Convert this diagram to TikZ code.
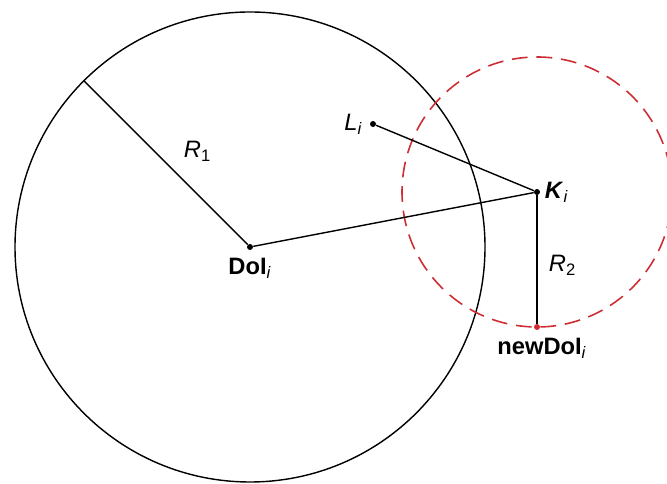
\documentclass[tikz,border=0pt]{standalone}
\usepackage{fontspec}
\setmainfont{Liberation Sans}
\usepackage{tikz}
\usetikzlibrary{positioning, calc}
\definecolor{dashred}{RGB}{205,45,50}

\begin{document}
\begin{tikzpicture}[
        pt/.style={circle, fill=black, inner sep=0pt, minimum size=0.12cm},
        lbl/.style={font=\fontsize{13.5}{15}\selectfont, inner sep=1pt},
        ring/.style={line width=0.8pt},
        reach/.style={dashred, line width=0.9pt, dash pattern=on 9pt off 5pt}
    ]
        \useasboundingbox (0,0) rectangle (13.34,9.68);

        % Points
        \node[pt] (doi) at (5.0, 4.74) {};
        \node[pt] (l) at (7.46, 7.2) {};
        \node[pt] (k) at (10.74, 5.84) {};
        \node[pt, fill=dashred] (newdoi) at (10.74, 3.14) {};
        \coordinate (rim) at ($(doi)+(135:4.7)$);

        % Circles
        \draw[ring] (doi) circle (4.7);
        \draw[reach] (k) circle (2.7);

        % Connectors
        \draw[ring] (doi) -- (rim);
        \draw[ring] (doi) -- (k);
        \draw[ring] (l) -- (k);
        \draw[ring] (k) -- (newdoi);

        % Labels
        \node[lbl, left=0.1cm of l] (llbl) {\textit{L}\textsubscript{\textit{i}}};
        \node[lbl, right=0.05cm of k] (klbl) {\textbf{\textit{K}}\textsubscript{\textit{i}}};
        \node[lbl, below=0.12cm of doi] (doilbl) {\textbf{DoI}\textsubscript{\textit{i}}};
        \node[lbl, below=0.12cm of newdoi, xshift=0.1cm] (newlbl) {\textbf{newDoI}\textsubscript{\textit{i}}};
        \node[lbl] (r1) at (3.95, 6.66) {\textit{R}\textsubscript{1}};
        \node[lbl] (r2) at (11.25, 4.38) {\textit{R}\textsubscript{2}};
    \end{tikzpicture}
\end{document}
